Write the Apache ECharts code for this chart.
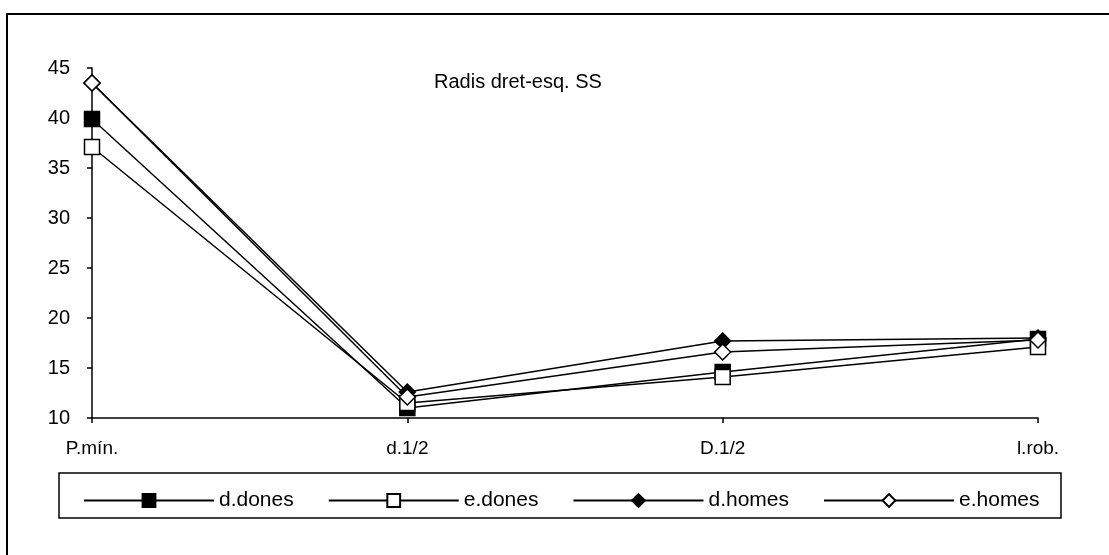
<!DOCTYPE html>
<html>
<head>
<meta charset="utf-8">
<script src="https://cdn.jsdelivr.net/npm/echarts@6/dist/echarts.min.js"></script>
<style>html,body{margin:0;padding:0;background:#fff;}#c{width:1109px;height:555px;}</style>
</head>
<body>
<div id="c"></div>
<script>
const categories = ['P.mín.', 'd.1/2', 'D.1/2', 'l.rob.'];
const dDones = [39.9, 11.0, 14.6, 17.9];
const eDones = [37.1, 11.5, 14.1, 17.1];
const dHomes = [43.5, 12.6, 17.7, 18.0];
const eHomes = [43.5, 12.1, 16.6, 17.8];
const seriesNames = ['d.dones', 'e.dones', 'd.homes', 'e.homes'];
const yTicks = { min: 10, max: 45, interval: 5 };
const titleText = 'Radis dret-esq. SS';

const FONT = "'Liberation Sans', Arial, sans-serif";
function mk(name, data, symbol, filled) {
  return {
    name, type: 'line', data, symbol, symbolSize: symbol === 'diamond' ? 16 : 15,
    lineStyle: { color: '#000', width: 1.5 },
    itemStyle: { color: filled ? '#000' : '#fff', borderColor: '#000', borderWidth: 1.5 },
    emphasis: { disabled: true }, animation: false
  };
}
const chart = echarts.init(document.getElementById('c'));
chart.setOption({
  animation: false,
  backgroundColor: '#fff',
  title: { text: titleText, left: 434, top: 72, padding: 0,
    textStyle: { fontFamily: FONT, fontSize: 20, fontWeight: 'normal', color: '#000' } },
  grid: { left: 92, right: 71, top: 68, bottom: 137, containLabel: false },
  xAxis: {
    type: 'category', data: categories, boundaryGap: false,
    axisLine: { lineStyle: { color: '#000', width: 1.5 } },
    axisTick: { show: true, length: 5, lineStyle: { color: '#000', width: 1.5 } },
    axisLabel: { fontFamily: FONT, fontSize: 19, color: '#000', margin: 21 },
    splitLine: { show: false }
  },
  yAxis: {
    type: 'value', min: yTicks.min, max: yTicks.max, interval: yTicks.interval,
    axisLine: { show: true, lineStyle: { color: '#000', width: 1.5 } },
    axisTick: { show: true, length: 5, lineStyle: { color: '#000', width: 1.5 } },
    axisLabel: { fontFamily: FONT, fontSize: 20, color: '#000', margin: 22 },
    splitLine: { show: false }
  },
  legend: {
    left: 78, top: 485, itemWidth: 130, itemHeight: 16, itemGap: 34,
    textStyle: { fontFamily: FONT, fontSize: 21, color: '#000', padding: [0, 0, 0, 0] },
    data: seriesNames
  },
  graphic: [
    { type: 'rect', shape: { x: 7, y: 14, width: 1200, height: 700 },
      style: { fill: 'none', stroke: '#000', lineWidth: 2 }, silent: true },
    { type: 'rect', shape: { x: 59, y: 473, width: 1002, height: 45 },
      style: { fill: 'none', stroke: '#000', lineWidth: 1.5 }, silent: true }
  ],
  series: [
    mk(seriesNames[0], dDones, 'rect', true),
    mk(seriesNames[1], eDones, 'rect', false),
    mk(seriesNames[2], dHomes, 'diamond', true),
    mk(seriesNames[3], eHomes, 'diamond', false)
  ]
});
</script>
</body>
</html>
